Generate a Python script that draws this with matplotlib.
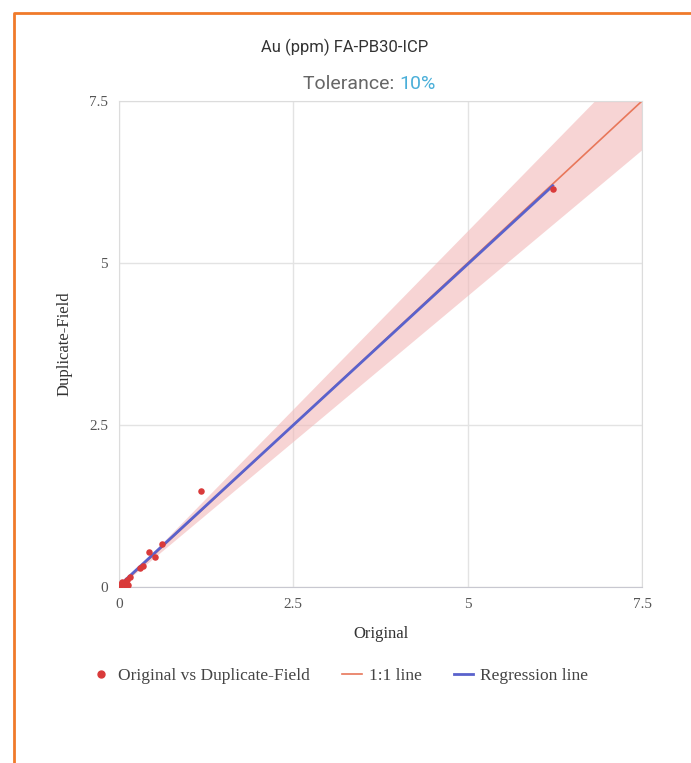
import matplotlib.pyplot as plt
import numpy as np
from matplotlib.lines import Line2D

# data
original = [0.01, 0.03, 0.05, 0.09, 0.11, 0.13, 0.16, 0.30, 0.35, 0.43, 0.52, 0.62, 1.17, 6.22]
duplicate = [0.015, 0.05, 0.08, 0.03, 0.11, 0.03, 0.15, 0.29, 0.32, 0.535, 0.46, 0.67, 1.48, 6.14]
tolerance = 0.10
ticks = [0, 2.5, 5, 7.5]
tick_labels = ['0', '2.5', '5', '7.5']

serif = ['Liberation Serif', 'DejaVu Serif']

fig = plt.figure(figsize=(6.91, 7.63), dpi=100)
ax = fig.add_axes([119 / 691, 1 - 587 / 763, 523 / 691, 486 / 763])

# tolerance band around 1:1 line
xs = np.linspace(0, 7.5, 200)
ax.fill_between(xs, xs * (1 - tolerance), xs * (1 + tolerance), color='#f2b8b8', alpha=0.6, lw=0, zorder=1)

ax.plot([0, 7.5], [0, 7.5], color='#e8775a', lw=1.2, zorder=2)

slope, icpt = np.polyfit(original, duplicate, 1)
rx = np.array([min(original), max(original)])
ax.plot(rx, slope * rx + icpt, color='#5a62cc', lw=2, zorder=3)

ax.scatter(original, duplicate, s=22, color='#d93a3a', zorder=4, lw=0)

ax.set_xlim(0, 7.5)
ax.set_ylim(0, 7.5)
ax.set_xticks(ticks)
ax.set_yticks(ticks)
ax.set_xticklabels(tick_labels, family=serif, fontsize=11, color='#555555')
ax.set_yticklabels(tick_labels, family=serif, fontsize=11, color='#555555')
ax.tick_params(length=0, pad=8)
ax.grid(color='#e3e3e3', lw=1)
ax.set_axisbelow(True)
for s in ['left', 'right', 'top']:
    ax.spines[s].set_color('#dcdcdc')
ax.spines['bottom'].set_color('#c8c8d0')

ax.set_xlabel('Original', family=serif, fontsize=12, color='#333333', labelpad=11)
ax.set_ylabel('Duplicate-Field', family=serif, fontsize=12, color='#333333', labelpad=12)

# titles
fig.text(345 / 691, 1 - 47 / 763, 'Au (ppm) FA-PB30-ICP', family='Roboto', fontsize=12,
         color='#333333', ha='center', va='center')
fig.text(399 / 691, 1 - 84 / 763, 'Tolerance: ', family='Roboto', fontsize=14,
         color='#666666', ha='right', va='center')
fig.text(399 / 691, 1 - 84 / 763, '10%', family='Roboto', fontsize=14,
         color='#4aafd9', ha='left', va='center')

handles = [
    Line2D([], [], ls='none', marker='o', ms=5, color='#d93a3a'),
    Line2D([], [], color='#e8775a', lw=1.2),
    Line2D([], [], color='#5a62cc', lw=2),
]
fig.legend(handles, ['Original vs Duplicate-Field', '1:1 line', 'Regression line'],
           loc='center', bbox_to_anchor=(340 / 691, 1 - 676 / 763), ncol=3, frameon=False,
           prop={'family': serif, 'size': 12.5}, labelcolor='#444444',
           handlelength=1.1, columnspacing=1.9, handletextpad=0.4)

# orange frame
fig.add_artist(Line2D([14 / 691, 14 / 691, 1], [0, 1 - 13 / 763, 1 - 13 / 763],
                      transform=fig.transFigure, color='#f07a2a', lw=2))

fig.savefig('out.png', dpi=100)
